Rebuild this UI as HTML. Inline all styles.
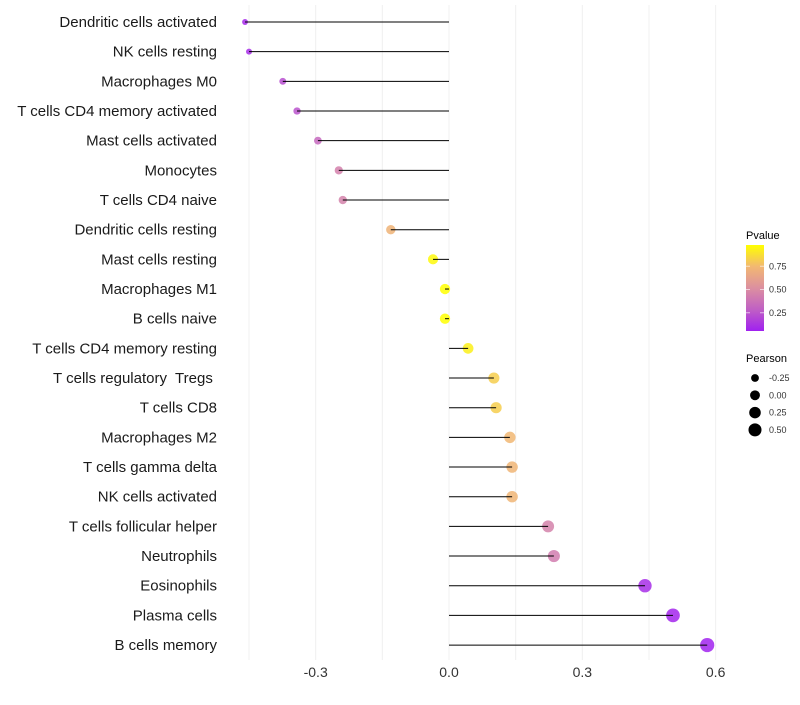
<!DOCTYPE html>
<html><head><meta charset="utf-8"><style>
body{margin:0;background:#fff;font-family:"Liberation Sans",sans-serif}
svg text{font-family:"Liberation Sans",sans-serif;white-space:pre}
</style></head><body>
<svg id="chart" width="800" height="700">
<defs><linearGradient id="pg" x1="0" y1="1" x2="0" y2="0">
<stop offset="0" stop-color="#A020F0"/><stop offset="0.25" stop-color="#C060C4"/><stop offset="0.5" stop-color="#DC8FA0"/><stop offset="0.75" stop-color="#F2B872"/><stop offset="1" stop-color="#FFFF00"/>
</linearGradient></defs>
<g id="grid"></g><g id="marks"></g><g id="labels"></g><g id="legend"></g>
</svg>
<script>
const categories=["Dendritic cells activated","NK cells resting","Macrophages M0","T cells CD4 memory activated","Mast cells activated","Monocytes","T cells CD4 naive","Dendritic cells resting","Mast cells resting","Macrophages M1","B cells naive","T cells CD4 memory resting","T cells regulatory  Tregs ","T cells CD8","Macrophages M2","T cells gamma delta","NK cells activated","T cells follicular helper","Neutrophils","Eosinophils","Plasma cells","B cells memory"];
const pearson=[-0.459,-0.45,-0.374,-0.342,-0.295,-0.248,-0.239,-0.131,-0.036,-0.009,-0.009,0.043,0.101,0.106,0.137,0.142,0.142,0.223,0.236,0.441,0.504,0.581];
const pvalue=[0.08,0.1,0.22,0.24,0.32,0.44,0.45,0.72,0.96,0.98,0.98,0.93,0.82,0.82,0.74,0.73,0.73,0.45,0.42,0.1,0.07,0.06];
const xTicks=[-0.3,0,0.3,0.6];
const xTickLabels=["-0.3","0.0","0.3","0.6"];
const xGrid=[-0.45,-0.3,-0.15,0,0.15,0.3,0.45,0.6];
const sizeLegend=[-0.25,0,0.25,0.5];
const pLegend=[0.25,0.5,0.75];
const NS="http://www.w3.org/2000/svg";
const X=v=>449+v*444.4;
const Y=i=>22+i*29.67;
const R=v=>Math.sqrt(Math.max(5,27+40*v));
const stops=[[0,[160,32,240]],[0.25,[192,96,196]],[0.5,[220,143,160]],[0.75,[242,184,114]],[1,[255,255,0]]];
function col(p){const t=Math.min(1,Math.max(0,(p-0.05)/0.93));for(let k=1;k<stops.length;k++){if(t<=stops[k][0]){const a=stops[k-1],b=stops[k],f=(t-a[0])/(b[0]-a[0]);return "rgb("+a[1].map((c,j)=>Math.round(c+(b[1][j]-c)*f)).join(",")+")";}}return "rgb(255,255,0)";}
function mk(t,a,p){const e=document.createElementNS(NS,t);for(const k in a)e.setAttribute(k,a[k]);p.appendChild(e);return e;}
const grid=document.getElementById('grid'),marks=document.getElementById('marks'),labels=document.getElementById('labels'),legend=document.getElementById('legend');
xGrid.forEach(v=>{const l=mk('line',{x1:X(v),x2:X(v),y1:5,y2:660,stroke:'#f0f0f0','stroke-width':1},grid);

});
categories.forEach((c,i)=>{
const y=Y(i);
const t=mk('text',{x:217,y:y+5,'text-anchor':'end','font-size':15,fill:'#1a1a1a'},labels);t.textContent=c;


const dot=mk('circle',{cx:X(pearson[i]),cy:y,r:R(pearson[i]),fill:col(pvalue[i]),'fill-opacity':0.85},marks);


const seg=mk('line',{x1:X(0),x2:X(pearson[i]),y1:y,y2:y,stroke:'#000','stroke-width':1},marks);


});
xTicks.forEach((v,i)=>{const t=mk('text',{x:X(v),y:677,'text-anchor':'middle','font-size':14,fill:'#333'},labels);t.textContent=xTickLabels[i];

});
let tt=mk('text',{x:746,y:239,'font-size':11,fill:'#000'},legend);tt.textContent="Pvalue";


const bar=mk('rect',{x:746,y:245,width:18,height:86,fill:'url(#pg)'},legend);


pLegend.forEach(p=>{const y=336-93*p;mk('line',{x1:746,x2:750,y1:y,y2:y,stroke:'#fff','stroke-opacity':0.6},legend);mk('line',{x1:760,x2:764,y1:y,y2:y,stroke:'#fff','stroke-opacity':0.6},legend);
const t=mk('text',{x:769,y:y+3,'font-size':9,fill:'#333'},legend);t.textContent=p.toFixed(2);

});
tt=mk('text',{x:746,y:362,'font-size':11,fill:'#000'},legend);tt.textContent="Pearson";


sizeLegend.forEach((v,i)=>{const y=378+i*17.3;const c=mk('circle',{cx:755,cy:y,r:R(v)*0.95,fill:'#000'},legend);


const t=mk('text',{x:769,y:y+3,'font-size':9,fill:'#333'},legend);t.textContent=v.toFixed(2);

});
</script>
</body></html>
